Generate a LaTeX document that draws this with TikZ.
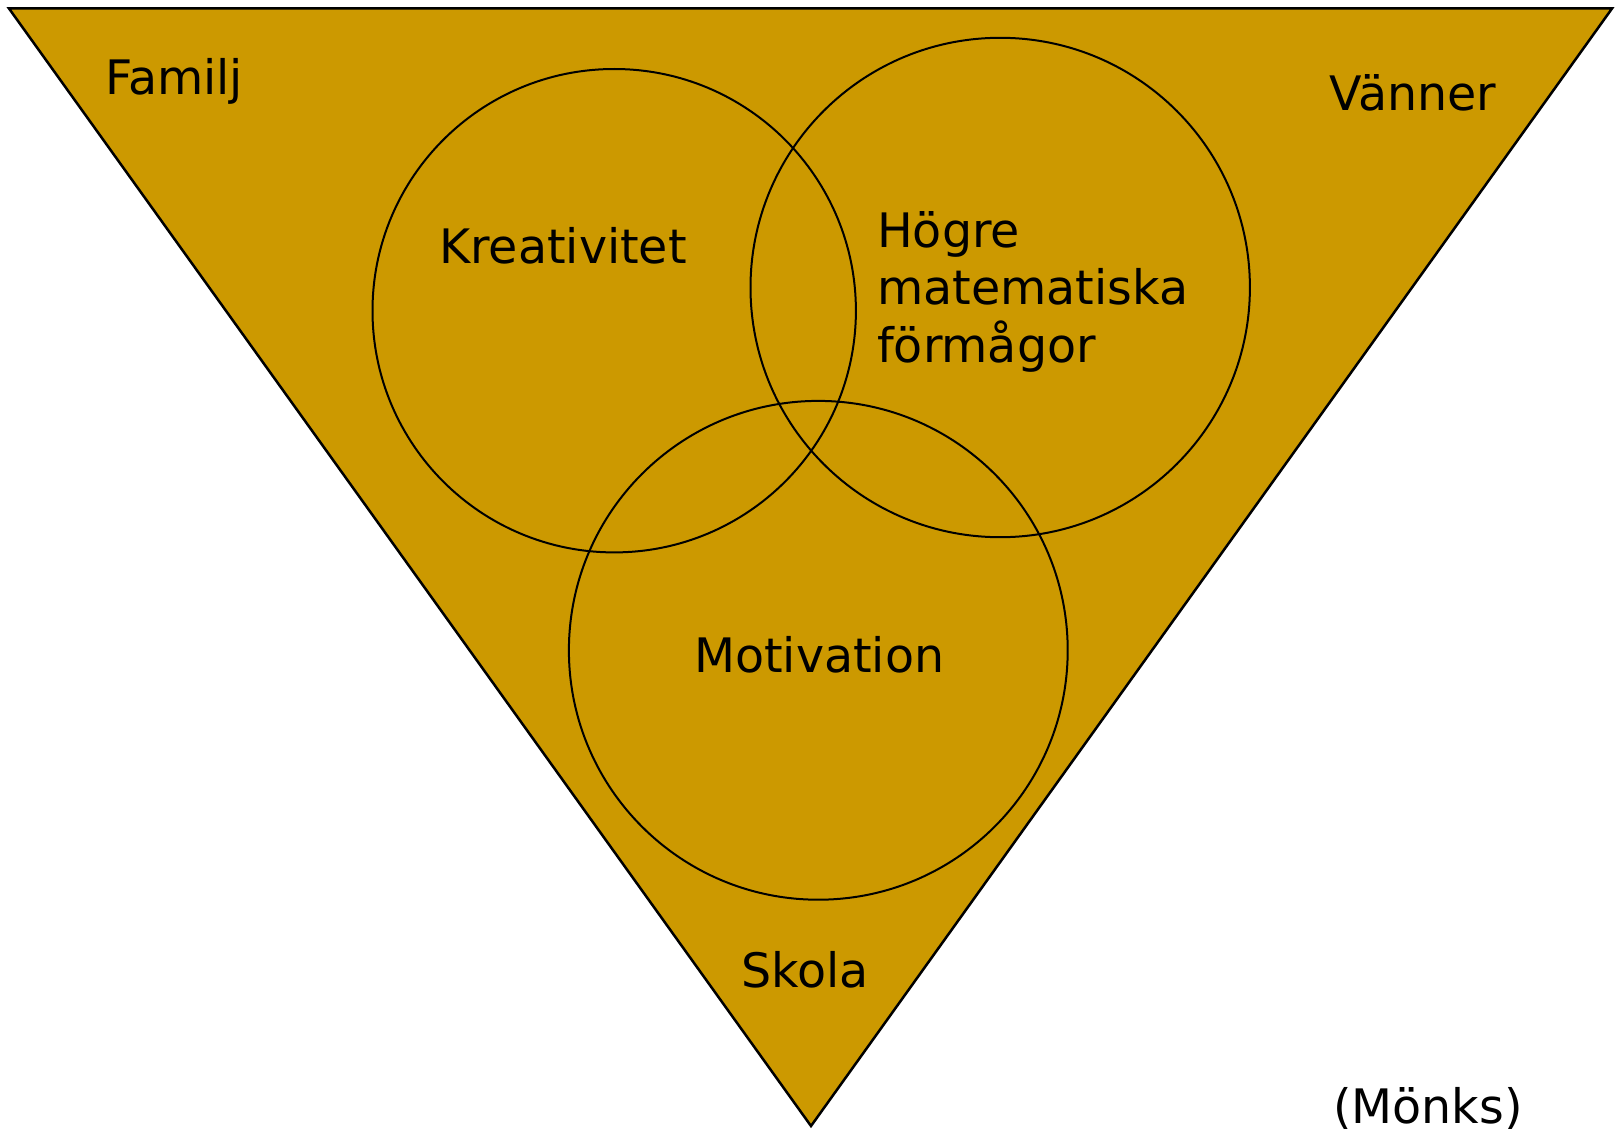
\documentclass[tikz,border=0pt]{standalone}
\usepackage{fontspec}
\setmainfont{DejaVu Sans}
\definecolor{gold}{HTML}{CC9900}
\begin{document}
\begin{tikzpicture}[x=1pt,y=-1pt,
  lbl/.style={anchor=base west, inner sep=0pt, font=\fontsize{47.5}{57.5}\selectfont},
  ring/.style={draw=black, line width=2pt}]
\useasboundingbox (0,0) rectangle (1616,1129);
\coordinate (tl) at (9,8.5);
\coordinate (tr) at (1612,8.5);
\coordinate (bt) at (811,1126);
\draw[fill=gold, line width=2.5pt, line join=miter] (tl) -- (tr) -- (bt) -- cycle;
\node[ring, circle, minimum size=483.4pt, inner sep=0pt] (kre) at (614.2,310.7) {};
\node[ring, circle, minimum size=499.4pt, inner sep=0pt] (hog) at (1000.2,287.5) {};
\node[ring, circle, minimum size=498.8pt, inner sep=0pt] (mot) at (818.3,650.3) {};
\node[lbl] (familj) at (105,95) {Familj};
\node[lbl] (vanner) at (1329,111) {Vänner};
\node[lbl] (kreat) at (439,263) {Kreativitet};
\node[lbl, align=left] (hogre) at (877,362) {Högre\\matematiska\\förmågor};
\node[lbl] (motiv) at (694,672) {Motivation};
\node[lbl] (skola) at (741,987) {Skola};
\node[lbl] (monks) at (1333,1123) {(Mönks)};
\end{tikzpicture}
\end{document}
